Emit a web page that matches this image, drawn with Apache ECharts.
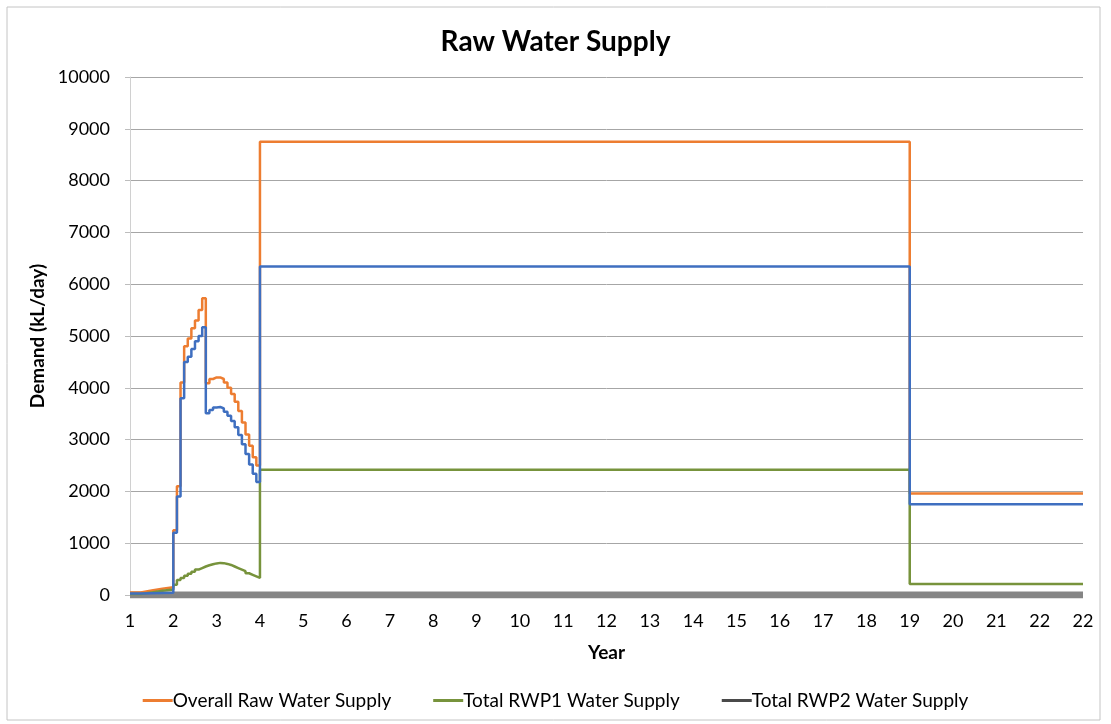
<!DOCTYPE html>
<html>
<head>
<meta charset="utf-8">
<script src="https://cdn.jsdelivr.net/npm/echarts@6/dist/echarts.min.js"></script>
<style>
  html, body { margin: 0; padding: 0; background: #fff; }
  #main { width: 1111px; height: 724px; }
</style>
</head>
<body>
<div id="main"></div>
<script>
// x tick labels (Excel category labels, last one repeats "22")
var xLabels = ['1','2','3','4','5','6','7','8','9','10','11','12','13','14','15','16','17','18','19','20','21','22','22'];

// months counted from the first tick ("1")
var months = [0, 3, 6, 9,
  12, 13, 14, 15, 16, 17, 18, 19, 20, 21, 22, 23,
  24, 25, 26, 27, 28, 29, 30, 31, 32, 33, 34, 35,
  36, 216, 264];

var overall = [50, 85, 120, 150,
  1250, 2100, 4100, 4800, 4950, 5150, 5300, 5500, 5730, 4090, 4170, 4200,
  4200, 4170, 4100, 4000, 3880, 3730, 3550, 3330, 3100, 2880, 2660, 2500,
  8750, 1960, 1960];

var rwp1 = [20, 50, 80, 105,
  200, 290, 330, 370, 410, 450, 490, 520, 550, 575, 595, 610,
  620, 615, 600, 580, 550, 520, 490, 460, 420, 390, 360, 330,
  2420, 210, 210];

// blue line, not in the legend
var rwpMain = [30, 35, 40, 45,
  1200, 1900, 3800, 4500, 4600, 4750, 4900, 5000, 5170, 3510, 3570, 3620,
  3630, 3600, 3540, 3460, 3360, 3240, 3090, 2910, 2720, 2520, 2340, 2180,
  6340, 1750, 1750];

var rwp2Months = [0, 264];
var rwp2 = [0, 0];

function pts(mm, vals) {
  var out = [];
  for (var i = 0; i < mm.length; i++) out.push([mm[i] / 12, vals[i]]);
  return out;
}

var chart = echarts.init(document.getElementById('main'));
var font = 'Lato, "Open Sans", sans-serif';

var option = {
  backgroundColor: '#fff',
  animation: false,
  textStyle: { fontFamily: font },
  title: {
    text: 'Raw Water Supply',
    left: 'center',
    top: 23,
    textStyle: { fontSize: 28, fontWeight: 'bold', color: '#000', fontFamily: font }
  },
  graphic: [{
    type: 'rect',
    shape: { x: 7, y: 7, width: 1093, height: 713 },
    style: { fill: 'none', stroke: '#c4c4c4', lineWidth: 1 },
    silent: true
  }],
  legend: {
    bottom: 9,
    left: 'center',
    itemWidth: 30,
    itemHeight: 3,
    itemGap: 42,
    icon: 'rect',
    textStyle: { fontSize: 19, color: '#000', fontFamily: font, padding: [0, 0, 0, -5] },
    data: [
      { name: 'Overall Raw Water Supply', itemStyle: { color: '#ED7D31' } },
      { name: 'Total RWP1 Water Supply', itemStyle: { color: '#77933C' } },
      { name: 'Total RWP2 Water Supply', itemStyle: { color: '#4a4a4a' } }
    ]
  },
  grid: { left: 130, right: 28, top: 77, bottom: 129 },
  xAxis: {
    type: 'value',
    min: 0,
    max: 22,
    interval: 1,
    name: 'Year',
    nameLocation: 'middle',
    nameGap: 48,
    nameTextStyle: { fontSize: 19, fontWeight: 'bold', color: '#000', fontFamily: font },
    axisLine: { show: false },
    axisTick: { show: false },
    splitLine: { show: false },
    axisLabel: {
      fontSize: 18, color: '#000', margin: 17, fontFamily: font,
      showMinLabel: true, showMaxLabel: true, hideOverlap: false,
      // the repeated last label gets rich markup so it is not merged with the one before
      formatter: function (v) {
        var i = Math.round(v);
        return i === xLabels.length - 1 ? '{last|' + xLabels[i] + '}' : xLabels[i];
      },
      rich: { last: { fontSize: 18, color: '#000', fontFamily: font } }
    }
  },
  yAxis: {
    type: 'value',
    min: 0,
    max: 10000,
    interval: 1000,
    name: 'Demand (kL/day)',
    nameLocation: 'middle',
    nameGap: 82,
    nameTextStyle: { fontSize: 19, fontWeight: 'bold', color: '#000', fontFamily: font },
    axisLine: { show: true, lineStyle: { color: '#d0d0d0', width: 1 } },
    axisTick: { show: true, length: 5, lineStyle: { color: '#bdbdbd' } },
    splitLine: { lineStyle: { color: '#a6a6a6', width: 1 } },
    axisLabel: {
      fontSize: 18, color: '#000', margin: 20, fontFamily: font,
      formatter: function (v) { return String(v); }
    }
  },
  series: [
    {
      name: 'Total RWP2 Water Supply',
      type: 'line',
      step: 'end',
      symbol: 'none',
      data: pts(rwp2Months, rwp2),
      lineStyle: { color: '#858585', width: 7 },
      itemStyle: { color: '#858585' },
      z: 1
    },
    {
      name: 'Overall Raw Water Supply',
      type: 'line',
      step: 'end',
      symbol: 'none',
      data: pts(months, overall),
      lineStyle: { color: '#ED7D31', width: 2.5 },
      itemStyle: { color: '#ED7D31' },
      z: 2
    },
    {
      name: 'Total RWP1 Water Supply',
      type: 'line',
      step: 'end',
      symbol: 'none',
      data: pts(months, rwp1),
      lineStyle: { color: '#77933C', width: 2.5 },
      itemStyle: { color: '#77933C' },
      z: 3
    },
    {
      name: 'RWP1 main',
      type: 'line',
      step: 'end',
      symbol: 'none',
      data: pts(months, rwpMain),
      lineStyle: { color: '#3F6FC0', width: 2.5 },
      itemStyle: { color: '#3F6FC0' },
      z: 4
    }
  ]
};

chart.setOption(option);
</script>
</body>
</html>
